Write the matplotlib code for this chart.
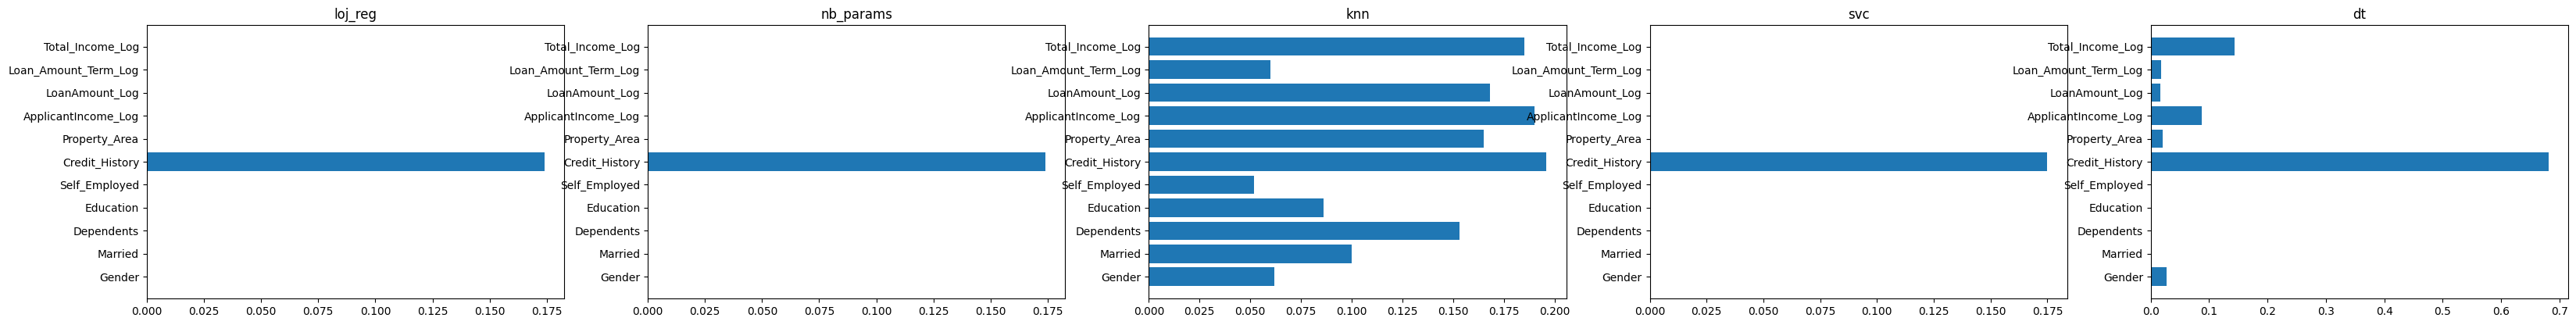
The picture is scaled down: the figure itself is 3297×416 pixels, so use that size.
import numpy as np
import matplotlib.pyplot as plt

features = ["Gender", "Married", "Dependents", "Education", "Self_Employed",
            "Credit_History", "Property_Area", "ApplicantIncome_Log",
            "LoanAmount_Log", "Loan_Amount_Term_Log", "Total_Income_Log"]

loj_reg = [0, 0, 0, 0, 0, 0.174, 0, 0, 0, 0, 0]
nb_params = [0, 0, 0, 0, 0, 0.174, 0, 0, 0, 0, 0]
knn = [0.062, 0.100, 0.153, 0.086, 0.052, 0.196, 0.165, 0.190, 0.168, 0.060, 0.185]
svc = [0, 0, 0, 0, 0, 0.175, 0, 0, 0, 0, 0]
dt = [0.027, 0, 0, 0, 0, 0.681, 0.021, 0.087, 0.016, 0.018, 0.143]

models = {"loj_reg": loj_reg, "nb_params": nb_params, "knn": knn, "svc": svc, "dt": dt}

fig, axes = plt.subplots(1, 5, figsize=(32.97, 4.16), dpi=100)
fig.subplots_adjust(left=0.057, right=0.997, top=0.923, bottom=0.082, wspace=0.2)
for ax, (name, vals) in zip(axes, models.items()):
    ax.barh(features, vals)
    ax.set_title(name, fontsize=12)
    ax.tick_params(labelsize=10)
plt.savefig("out.png")
